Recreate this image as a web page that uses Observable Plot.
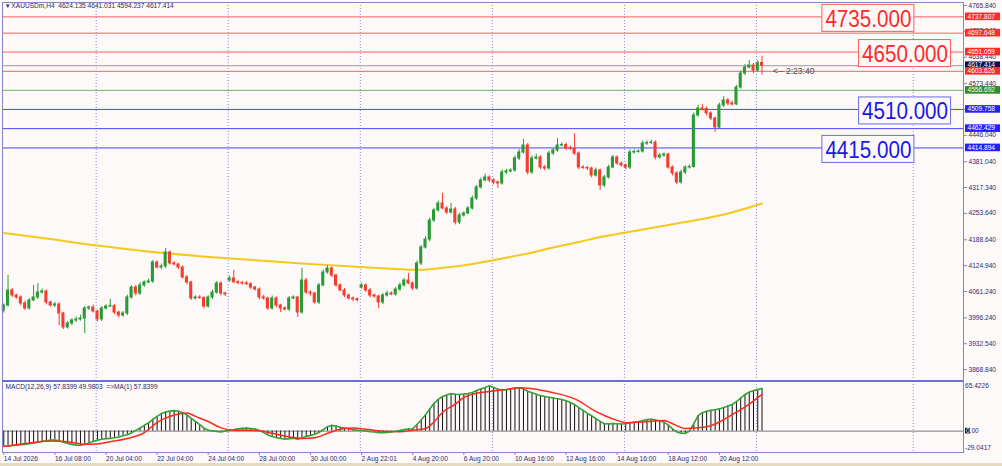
<!DOCTYPE html>
<html>
<head>
<meta charset="utf-8">
<script src="https://cdn.jsdelivr.net/npm/d3@7"></script>
<script src="https://cdn.jsdelivr.net/npm/@observablehq/plot@0.6"></script>
<style>
html,body{margin:0;padding:0;background:#fdf9f9;}
#chart{position:relative;width:1002px;height:466px;overflow:hidden;background:#fdf9f9;font-family:"Liberation Sans",Arial,sans-serif;}
#chart svg{position:absolute;left:0;}
#strip{position:absolute;left:0;top:463px;width:1002px;height:3px;background:#e6dbc0;}
</style>
</head>
<body>
<div id="chart"><div id="strip"></div></div>
<script>
// ---------------- data ----------------
const symbol = "XAUUSDm,H4";
const lastOHLC = [4624.135, 4641.031, 4594.237, 4617.414];

const closes = [
4026.7,4063.6,4051.3,4046.4,4031.6,4019.3,4039.0,4046.4,4058.7,4061.2,
4034.1,4026.7,4029.1,4007.0,3972.5,3982.3,3989.7,3992.2,3994.6,4019.3,
4021.7,4011.9,3992.2,4019.3,4024.2,4025.0,4009.4,4002.0,4007.0,4046.4,
4071.0,4056.2,4076.0,4083.4,4085.8,4132.6,4120.3,4122.8,4157.3,4130.2,
4127.7,4120.3,4095.7,4083.4,4043.9,4046.4,4045.0,4024.2,4046.4,4058.7,
4080.9,4056.2,4053.8,4093.2,4084.0,4082.5,4081.0,4079.0,4071.0,4066.1,
4046.4,4043.9,4019.3,4043.9,4026.7,4019.3,4016.8,4043.9,4046.4,4009.4,
4088.3,4058.7,4056.2,4034.1,4076.0,4108.0,4117.8,4100.6,4076.0,4063.6,
4051.3,4043.9,4042.0,4040.0,4076.0,4063.6,4051.3,4048.8,4034.1,4051.3,
4056.2,4053.8,4066.1,4076.0,4088.3,4080.9,4068.6,4130.2,4169.6,4189.3,
4236.1,4260.8,4278.0,4265.7,4255.8,4263.2,4231.2,4248.4,4253.4,4265.7,
4290.3,4317.4,4334.7,4342.1,4334.7,4329.8,4327.3,4354.4,4356.9,4359.3,
4388.9,4403.7,4420.9,4354.4,4388.9,4391.4,4366.7,4364.3,4401.2,4408.6,
4420.9,4422.0,4413.5,4412.5,4401.2,4366.7,4365.5,4364.3,4347.0,4359.3,
4322.4,4342.1,4366.7,4391.4,4376.6,4371.6,4366.7,4403.7,4405.0,4406.0,
4425.8,4427.0,4428.0,4391.4,4396.2,4398.7,4366.7,4351.9,4329.8,4354.4,
4366.7,4368.0,4494.8,4512.1,4511.0,4499.8,4487.4,4465.3,4519.5,4531.8,
4524.4,4522.0,4563.8,4598.3,4613.1,4618.0,4605.7,4624.1,4617.414
];
// opens equal the previous close except at these bars (gaps / first bar / last bar)
const openOverrides = {0: 4014.4, 53: 4088.3, 84: 4071.0, 178: 4624.135};

const upperWick = [
4,37,5,3,4,6,5,30,22,6,
4,3,5,4,3,5,4,6,8,5,
4,6,3,5,4,17,4,3,5,6,
4,5,7,4,6,5,4,6,10,4,
5,3,4,5,3,4,5,3,4,6,
5,4,3,6,20,4,3,5,4,3,
4,5,3,6,4,3,4,5,4,3,
30,5,4,3,5,6,7,4,3,4,
5,3,4,3,6,4,5,3,4,5,
6,4,5,6,5,17,4,6,5,7,
6,5,6,25,4,15,5,6,4,5,
6,5,6,8,4,5,4,6,5,4,
6,7,15,5,6,8,4,5,6,5,
17,6,5,6,37,4,5,4,3,6,
4,5,6,5,4,3,4,6,5,4,
6,5,6,4,5,4,3,4,5,6,
4,5,6,8,10,5,4,3,6,9,
5,6,5,6,7,12,5,6,16.896
];
const lowerWick = [
6,4,5,4,6,5,4,3,5,4,
6,4,5,30,5,4,6,5,4,37,
5,4,6,5,4,3,5,6,4,5,
4,6,5,4,3,5,4,6,5,4,
3,5,4,6,5,4,3,6,4,5,
4,6,5,4,3,5,4,3,5,4,
6,4,5,4,6,10,4,5,3,12,
4,5,6,4,5,3,4,5,4,3,
5,4,6,5,4,5,6,4,15,5,
4,3,4,5,4,3,6,4,5,4,
6,5,4,3,5,4,6,5,4,3,
4,5,4,3,5,6,12,4,5,3,
4,5,4,6,5,4,5,6,4,5,
4,3,5,4,5,6,4,5,6,4,
12,5,4,3,5,4,6,5,4,3,
4,5,4,6,4,5,4,6,5,4,
5,4,3,4,5,6,5,12,4,5,
6,4,3,4,5,4,8,5,23.177
];

// moving average (yellow) read at sample bars
const maBars = [0,10,20,30,40,50,60,70,80,90,97,105,112,117,123,129,135,140,146,152,158,164,170,175,178];
const maVals = [4205.3,4191.7,4176.9,4164.6,4153.5,4144.9,4137.5,4130.1,4124.0,4117.8,4114.6,4121.5,4132.6,4142.5,4154.8,4169.6,4183.1,4195.4,4206.5,4217.6,4228.7,4239.8,4253.4,4268.1,4278.0];

const priceTicks = [4765.84,4702.14,4638.44,4573.44,4509.74,4446.04,4381.04,4317.34,4253.64,4188.64,4124.94,4061.24,3996.24,3932.54,3868.84];
const priceDomain = [3839.4, 4773.2];

const levelVals  = [4737.807, 4697.648, 4651.059, 4617.414, 4603.626, 4556.692, 4509.758, 4462.429, 4414.894];
const levelKinds = ["res","res","res","bid","res","mid","sup","sup","sup"];

const bigVals    = [4735, 4650, 4510, 4415];
const bigAnchors = [4737.807, 4651.059, 4509.758, 4414.894];
const bigBars    = [193, 201.6, 201.6, 193];
const bigKinds   = ["res","res","sup","sup"];

const gridBars = [21.7, 52.7, 83.7, 114.7, 145.7, 176.7, 213.5];
const xDomain = [-0.3, 225.3];
const xLabelBars = [0,12,24,36,48,60,72,84,96,108,120,132,144,156,168];
const xLabels = ["14 Jul 2026","16 Jul 08:00","20 Jul 04:00","22 Jul 04:00","24 Jul 04:00","28 Jul 00:00","30 Jul 00:00","2 Aug 22:01","4 Aug 20:00","6 Aug 20:00","10 Aug 16:00","12 Aug 16:00","14 Aug 16:00","18 Aug 12:00","20 Aug 12:00"];

const macdVals = [
-20.6,-20.2,-19.5,-19.1,-18.4,-18.0,-17.2,-16.1,-15.0,-14.2,
-13.1,-12.2,-12.0,-13.0,-15.1,-16.8,-18.0,-19.0,-19.2,-18.1,
-16.0,-14.1,-12.2,-11.0,-10.2,-9.8,-9.0,-7.9,-6.2,-4.8,
-2.1,1.0,4.2,7.9,11.2,16.0,20.1,23.8,26.0,27.2,
27.8,27.0,25.1,22.0,17.2,13.1,8.8,4.1,1.2,0.3,
-0.4,-1.0,0.2,1.1,2.0,3.1,3.8,4.1,3.4,2.8,
1.0,-2.0,-5.1,-7.2,-8.8,-10.1,-11.0,-10.2,-9.8,-10.9,
-9.2,-7.1,-5.8,-4.2,-1.9,2.1,6.0,7.8,7.0,5.2,
4.1,3.2,2.0,1.2,0.9,0.2,-0.8,-1.2,-2.1,-2.2,
-1.8,-1.0,-0.2,0.9,2.0,2.8,3.1,9.0,15.2,22.1,
30.2,37.8,43.1,47.0,49.2,51.0,50.2,49.8,50.3,51.2,
52.4,55.1,57.3,59.2,61.8,59.4,57.0,56.1,56.3,57.2,
58.1,59.0,57.2,54.1,52.0,50.1,48.2,47.1,46.0,45.0,
44.1,43.0,41.2,39.0,36.1,32.0,28.1,24.0,20.8,17.1,
13.2,10.1,9.8,10.2,10.0,9.7,10.1,11.0,12.1,13.0,
14.2,15.8,16.2,15.1,14.0,12.2,8.1,3.0,-1.1,-2.9,
-3.1,0.2,10.2,21.0,25.1,27.0,28.2,29.1,30.2,32.0,
34.1,36.2,40.1,45.0,49.8,53.0,55.0,56.4,57.8399
];
const sigBars = [0,7,11,15,19,22,25,29,33,36,40,43,45,48,51,54,57,60,63,67,70,73,76,79,82,85,89,93,96,99,101,103,106,108,110,113,117,121,124,129,132,135,138,141,144,146,150,155,157,160,162,165,168,170,172,175,178];
const sigVals = [-21,-15.3,-13.5,-14.4,-18,-17.5,-14.4,-10,-2,12,22,24.6,20,13,4.4,1.3,1.3,0.4,-3,-7.8,-10,-9,-3,2.6,4.4,2.6,0,-1,1.3,3.5,12.4,25.7,36.8,45.7,50,53.2,55.8,58.8,57.5,52.2,47.9,41.2,30,21.3,14.6,11.5,12.4,14.6,10,3.5,4.4,5.8,12.4,19,25.7,36.8,49.9803];
const macdParams = [12, 26, 9];
const macdAxis = [65.4226, 0, -29.0417];
const timerText = "<-- 2:23:40";

// ---------------- styles ----------------
const C = {
  bg: "#fdf9f9", frame: "#8484c6", grid: "#8c8cd0", text: "#2c2c6c",
  up: "#2a9a36", down: "#f43d2f", ma: "#f3c91c",
  res: "#ff2a2a", resLine: "#ff5c5c", resBox: "#ff5a5a",
  sup: "#1818e8", supLine: "#4646ff", supBox: "#6b6bea",
  mid: "#2e8e2e", midLine: "#66b866",
  bid: "#0c0c52", bidLine: "#9c9c9c"
};
const tagFill  = {res: C.res, sup: "#2222ff", mid: C.mid, bid: C.bid};
const lineCol  = {res: C.resLine, sup: C.supLine, mid: C.midLine, bid: C.bidLine};
const FONT = "'Liberation Sans', Arial, sans-serif";
const FS = 6.6;

// ---------------- derived tables ----------------
const bars = closes.map((c, i) => {
  const o = openOverrides[i] !== undefined ? openOverrides[i] : closes[i - 1];
  return {i, open: o, close: c,
          high: Math.max(o, c) + upperWick[i],
          low: Math.min(o, c) - lowerWick[i]};
});
const upBars = bars.filter(d => d.close >= d.open);
const dnBars = bars.filter(d => d.close < d.open);
const maData = maBars.map((b, k) => ({i: b, v: maVals[k]}));
const levels = levelVals.map((v, k) => ({v, kind: levelKinds[k]}));
const macdData = macdVals.map((v, i) => ({i, v}));
const sigData = sigBars.map((b, k) => ({i: b, v: sigVals[k]}));
const xLabelMap = new Map(xLabelBars.map((b, k) => [b, xLabels[k]]));
const titleStr = "\u25BE " + symbol + "  " + lastOHLC.map(v => v.toFixed(3)).join(" ");
const macdTitle = `MACD(${macdParams.join(",")}) ${macdVals[macdVals.length-1].toFixed(4)} ${sigVals[sigVals.length-1].toFixed(4)}  =>MA(1) ${macdVals[macdVals.length-1].toFixed(4)}`;

const baseStyle = {background: "transparent", fontFamily: FONT, fontSize: FS + "px", overflow: "visible"};

// level line marks grouped by colour
const levelMarks = Object.keys(lineCol).map(k =>
  Plot.ruleY(levels.filter(d => d.kind === k), {y: "v", stroke: lineCol[k], strokeWidth: 1})
);

// big boxed labels
function bigLabelMark(index, scales, values, dims) {
  const g = d3.create("svg:g").attr("text-anchor", "start");
  bigVals.forEach((v, k) => {
    const isRes = bigKinds[k] === "res";
    const x = scales.x(bigBars[k]);
    const y = scales.y(bigAnchors[k]) + 1.5;
    g.append("rect").attr("x", x - 3.5).attr("y", y - 13.5).attr("width", 92).attr("height", 27)
      .attr("fill", C.bg).attr("stroke", isRes ? C.resBox : C.supBox).attr("stroke-width", 1);
    g.append("text").attr("x", x).attr("y", y).attr("dy", "0.36em")
      .attr("text-anchor", "start")
      .attr("font-size", 24).attr("font-family", FONT)
      .attr("textLength", 86).attr("lengthAdjust", "spacingAndGlyphs")
      .attr("fill", isRes ? C.res : C.sup).text(v.toFixed(3));
  });
  return g.node();
}

// right-margin price tags
function priceTagMark(index, scales, values, dims) {
  const g = d3.create("svg:g").attr("font-size", FS).attr("font-family", FONT).attr("text-anchor", "start");
  const x0 = dims.width - dims.marginRight + 2;
  levels.forEach(d => {
    const y = scales.y(d.v);
    g.append("rect").attr("x", x0).attr("y", y - 3.8).attr("width", 35).attr("height", 7.6).attr("fill", tagFill[d.kind]);
    g.append("text").attr("x", x0 + 2.5).attr("y", y).attr("dy", "0.34em").attr("text-anchor", "start")
      .attr("fill", "#ffffff").text(d.v.toFixed(3));
  });
  return g.node();
}

// ---------------- main price panel ----------------
const main = Plot.plot({
  width: 1002, height: 381,
  marginTop: 2, marginBottom: 0, marginLeft: 2, marginRight: 39,
  style: baseStyle,
  x: {domain: xDomain, axis: null, label: null},
  y: {domain: priceDomain, label: null},
  marks: [
    Plot.ruleX(gridBars, {stroke: C.grid, strokeDasharray: "1,2", strokeWidth: 1}),
    ...levelMarks,
    Plot.line(maData, {x: "i", y: "v", stroke: C.ma, strokeWidth: 2, curve: "monotone-x"}),
    Plot.ruleX(upBars, {x: "i", y1: "low", y2: "high", stroke: C.up, strokeWidth: 1}),
    Plot.ruleX(dnBars, {x: "i", y1: "low", y2: "high", stroke: C.down, strokeWidth: 1}),
    Plot.rect(upBars, {x1: d => d.i - 0.36, x2: d => d.i + 0.36, y1: "open", y2: "close", fill: C.up, insetTop: -0.5, insetBottom: -0.5}),
    Plot.rect(dnBars, {x1: d => d.i - 0.36, x2: d => d.i + 0.36, y1: "open", y2: "close", fill: C.down, insetTop: -0.5, insetBottom: -0.5}),
    bigLabelMark,
    Plot.text([{i: closes.length - 1, v: levelVals[4], t: timerText}], {x: "i", y: "v", text: "t", dx: 11, textAnchor: "start", fontSize: 8.5, fill: "#4a4a4a"}),
    Plot.axisY(priceTicks, {anchor: "right", label: null, tickFormat: d => d.toFixed(3), tickSize: 3, tickPadding: 2, fontSize: FS, fill: C.text, stroke: C.frame}),
    priceTagMark,
    Plot.frame({stroke: C.frame}),
    Plot.text([titleStr], {text: d => d, frameAnchor: "top-left", dx: 3, dy: 1, lineAnchor: "top", textAnchor: "start", fontSize: FS, fill: C.text})
  ]
});
main.style.top = "0px";

// ---------------- MACD panel ----------------
function macdDecor(index, scales, values, dims) {
  const g = d3.create("svg:g").attr("font-size", FS).attr("font-family", FONT).attr("fill", C.text).attr("text-anchor", "start");
  const xl = dims.marginLeft, xr = dims.width - dims.marginRight;
  // thick separator on top of the sub-window
  g.append("line").attr("x1", xl).attr("x2", xr).attr("y1", dims.marginTop).attr("y2", dims.marginTop)
    .attr("stroke", "#6d6ddb").attr("stroke-width", 2);
  const x = xr + 2;
  g.append("text").attr("x", x).attr("y", scales.y(macdAxis[0])).attr("dy", "0.9em").attr("text-anchor", "start").text(macdAxis[0].toFixed(4));
  g.append("text").attr("x", x).attr("y", scales.y(macdAxis[2])).attr("dy", "-0.25em").attr("text-anchor", "start").text(macdAxis[2].toFixed(4));
  const y0 = scales.y(macdAxis[1]);
  g.append("rect").attr("x", x).attr("y", y0 - 2.8).attr("width", 5).attr("height", 5.6).attr("fill", "#111");
  const t = g.append("text").attr("x", x + 0.9).attr("y", y0).attr("dy", "0.34em").attr("text-anchor", "start");
  t.append("tspan").attr("fill", "#ffffff").text("0");
  t.append("tspan").text(".00");
  return g.node();
}

const macdPlot = Plot.plot({
  width: 1002, height: 86,
  marginTop: 1, marginBottom: 14, marginLeft: 2, marginRight: 39,
  style: baseStyle,
  x: {domain: xDomain, label: null},
  y: {domain: [macdAxis[2], macdAxis[0] + 2], axis: null, label: null},
  marks: [
    Plot.ruleX(gridBars, {stroke: C.grid, strokeDasharray: "1,2", strokeWidth: 1}),
    Plot.ruleY([macdAxis[1]], {stroke: "#7a7a7a", strokeWidth: 1}),
    Plot.ruleX(macdData, {x: "i", y1: 0, y2: "v", stroke: "#111111", strokeWidth: 1}),
    Plot.line(macdData, {x: "i", y: "v", stroke: "#34a234", strokeWidth: 1.6}),
    Plot.line(sigData, {x: "i", y: "v", stroke: "#ff2a1c", strokeWidth: 1.5, curve: "monotone-x"}),
    Plot.frame({stroke: C.frame}),
    macdDecor,
    Plot.text([macdTitle], {text: d => d, frameAnchor: "top-left", dx: 3, dy: 3, lineAnchor: "top", textAnchor: "start", fontSize: FS, fill: C.text}),
    Plot.axisX(xLabelBars, {anchor: "bottom", label: null, tickFormat: d => xLabelMap.get(d), tickSize: 3, tickPadding: 1, textAnchor: "start", fontSize: FS, fill: C.text, stroke: C.frame})
  ]
});
macdPlot.style.top = "380px";

const holder = document.getElementById("chart");
holder.appendChild(main);
holder.appendChild(macdPlot);
</script>
</body>
</html>
